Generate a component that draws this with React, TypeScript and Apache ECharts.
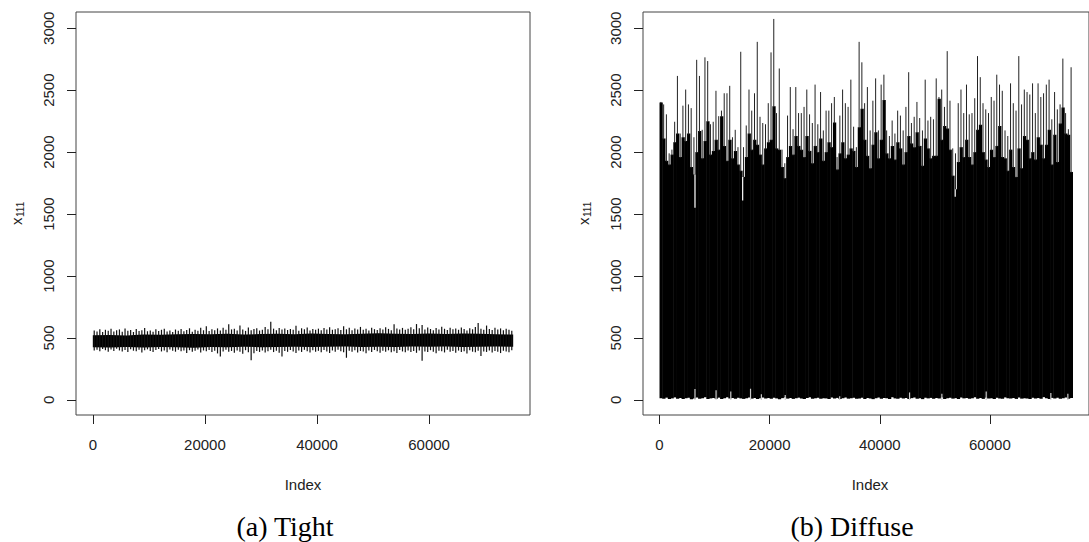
import React, { useEffect, useRef } from 'react';
import * as echarts from 'echarts';

const BIN = 500;
const X_TICKS = [0, 20000, 40000, 60000];
const Y_TICKS = [0, 500, 1000, 1500, 2000, 2500, 3000];
const X_TITLE = 'Index';
const CAPTIONS = ['(a) Tight', '(b) Diffuse'];

// Tight chain: per-bin (500 iterations) extremes of the trace
const TIGHT_HI = [
  560, 552, 571, 548, 566, 558, 574, 553, 562, 569,
  551, 577, 559, 565, 548, 572, 556, 563, 580, 554,
  561, 549, 570, 557, 566, 575, 552, 560, 547, 568,
  559, 573, 555, 564, 578, 551, 566, 558, 583, 562,
  594, 556, 571, 563, 577, 560, 582, 566, 610, 569,
  574, 561, 600, 568, 557, 585, 563, 572, 579, 560,
  567, 588, 570, 630, 575, 562, 581, 569, 576, 564,
  572, 566, 598, 559, 578, 570, 584, 561, 573, 567,
  575, 563, 580, 569, 586, 566, 571, 578, 564, 595,
  570, 582, 562, 577, 568, 589, 566, 574, 560, 583,
  571, 565, 579, 568, 586, 573, 563, 610, 576, 569,
  581, 566, 574, 587, 570, 612, 578, 605, 568, 584,
  572, 563, 580, 569, 590, 574, 565, 582, 571, 577,
  566, 585, 573, 561, 579, 570, 588, 621, 575, 567,
  600, 572, 564, 583, 569, 577, 562, 574, 566, 558,
];
const TIGHT_LO = [
  398, 405, 392, 410, 401, 388, 407, 395, 412, 399,
  390, 403, 386, 409, 397, 393, 404, 382, 400, 408,
  394, 387, 402, 411, 391, 399, 384, 406, 396, 389,
  405, 392, 398, 378, 401, 388, 396, 407, 383, 399,
  393, 402, 386, 397, 375, 350, 391, 404, 388, 395,
  380, 398, 389, 372, 401, 385, 320, 376, 394, 387,
  399, 383, 392, 404, 386, 397, 381, 350, 395, 388,
  402, 390, 379, 398, 387, 404, 393, 382, 400, 389,
  396, 385, 403, 391, 378, 399, 388, 405, 392, 384,
  340, 397, 389, 401, 383, 395, 390, 376, 398, 387,
  403, 392, 381, 396, 388, 400, 385, 393, 379, 402,
  391, 384, 398, 387, 395, 380, 399, 315, 390, 386,
  401, 389, 377, 397, 392, 383, 404, 388, 395, 381,
  398, 386, 393, 375, 400, 389, 384, 396, 355, 391,
  387, 399, 382, 394, 388, 378, 397, 390, 385, 400,
];
// Tight chain: dense core band
const CORE_X = [0, 3000, 6000, 9000, 12000, 15000, 18000, 21000, 24000, 27000, 30000, 33000, 36000,
  39000, 42000, 45000, 48000, 51000, 54000, 57000, 60000, 63000, 66000, 69000, 72000, 75000];
const TIGHT_CORE_HI = [522, 524, 520, 527, 525, 529, 532, 530, 534, 528, 531, 533, 529, 535, 532,
  530, 534, 537, 533, 531, 535, 532, 536, 533, 530, 528];
const TIGHT_CORE_LO = [424, 422, 426, 423, 427, 425, 421, 426, 424, 428, 425, 427, 429, 426, 428,
  430, 427, 429, 426, 431, 428, 430, 427, 429, 431, 428];

// Diffuse chain: per-bin solid body top, spike peak and bottom
const DIFFUSE_BODY = [
  2400, 2110, 1930, 1900, 1980, 2080, 2150, 1960, 2120, 2090,
  2150, 1880, 1820, 2000, 2170, 1950, 2090, 2250, 1980, 2010,
  2100, 2020, 2290, 2050, 1930, 2100, 1950, 2010, 1900, 1850,
  1800, 1960, 2150, 2020, 2100, 2060, 1980, 1900, 2030, 2080,
  2100, 2370, 2030, 2020, 1880, 1790, 1960, 2050, 1980, 2130,
  2050, 2020, 1960, 2130, 2010, 1910, 2050, 2000, 2110, 1930,
  2000, 2080, 2040, 2240, 1860, 1990, 2080, 1950, 1980, 2030,
  2010, 1880, 2200, 2350, 2100, 1970, 1870, 2060, 2160, 1950,
  2100, 2420, 1990, 1950, 2050, 1940, 2080, 2030, 1900, 2000,
  2130, 2070, 2040, 2160, 2050, 1890, 2110, 2030, 1950, 1970,
  1970, 2430, 2100, 2210, 2190, 2020, 1810, 1700, 1920, 2040,
  1960, 2100, 1960, 1900, 2000, 2180, 2220, 2000, 1940, 1880,
  2020, 1960, 2050, 2210, 1960, 1950, 1850, 2020, 1880, 1800,
  2030, 1870, 2130, 2100, 1950, 2000, 1940, 2120, 2060, 1950,
  2060, 2180, 1900, 2140, 1920, 2230, 2360, 2150, 2140, 1840,
];
const DIFFUSE_PEAK = [
  2405, 2385, 2305, 1990, 2020, 2245, 2615, 2150, 2375, 2505,
  2385, 2355, 2120, 2745, 2615, 2180, 2765, 2735, 2225, 2245,
  2495, 2290, 2335, 2475, 2475, 2535, 2120, 2180, 2040, 2810,
  2040, 2215, 2505, 2335, 2475, 2890, 2285, 2235, 2225, 2395,
  2805, 3075, 2315, 2675, 2020, 1910, 2295, 2525, 2185, 2525,
  2315, 2315, 2365, 2505, 2305, 2235, 2545, 2225, 2485, 2175,
  2335, 2335, 2395, 2445, 1960, 2295, 2505, 2395, 2365, 2585,
  2205, 2040, 2890, 2725, 2395, 2525, 2175, 2415, 2595, 2175,
  2545, 2625, 2175, 2130, 2255, 2150, 2335, 2295, 2175, 2365,
  2645, 2235, 2285, 2405, 2275, 2175, 2585, 2255, 2285, 2265,
  2595, 2445, 2505, 2365, 2815, 2415, 2030, 1990, 2395, 2505,
  2315, 2545, 2305, 2315, 2435, 2775, 2605, 2395, 2345, 2315,
  2445, 2415, 2625, 2545, 2495, 2175, 2130, 2555, 2395, 2335,
  2775, 2385, 2505, 2485, 2465, 2555, 2315, 2555, 2445, 2475,
  2545, 2585, 2265, 2485, 2345, 2385, 2755, 2315, 2185, 2685,
];
const DIFFUSE_LO = [
  14, 9, 18, 7, 12, 20, 10, 15, 8, 13,
  17, 6, 11, 19, 9, 14, 22, 8, 12, 16,
  10, 18, 7, 13, 21, 11, 15, 9, 17, 12,
  8, 14, 20, 10, 16, 7, 13, 19, 11, 15,
  9, 17, 12, 6, 14, 20, 10, 16, 8, 13,
  18, 11, 7, 15, 21, 9, 13, 17, 10, 14,
  12, 8, 19, 11, 16, 7, 14, 20, 10, 13,
  17, 9, 12, 18, 8, 15, 11, 6, 14, 19,
  10, 16, 13, 7, 21, 12, 9, 17, 11, 15,
  8, 14, 19, 10, 13, 6, 18, 12, 16, 9,
  15, 11, 20, 8, 13, 17, 10, 14, 7, 19,
  12, 16, 9, 13, 21, 10, 15, 8, 18, 11,
  14, 7, 17, 12, 9, 20, 13, 11, 16, 8,
  19, 10, 14, 12, 7, 17, 11, 15, 9, 22,
  13, 8, 16, 11, 18, 10, 14, 20, 9, 15,
];
// Diffuse chain: isolated low dips (white notches) and high minima (tufts at bottom)
const NOTCH_X = [6440, 15100, 53700];
const NOTCH_Y = [1550, 1610, 1640];
const TUFT_X = [6440, 10270, 12940, 16530, 18500, 22830, 32720, 45410, 51280, 59330, 71070, 74160];
const TUFT_Y = [87, 78, 67, 90, 45, 40, 30, 60, 50, 67, 55, 50];

const SANS = '"Liberation Sans", Arial, Helvetica, sans-serif';
const SERIF = '"Liberation Serif", "Times New Roman", serif';

const GRID_TOP = 12;
const GRID_H = 403;
const GRID_W = 454;
const GRID_LEFT = [76, 643];

function makeAxes(i: number) {
  const x = {
    type: 'value', gridIndex: i, min: -3000, max: 78000, position: 'bottom',
    axisLine: { show: false, onZero: false },
    splitLine: { show: false },
    axisTick: { show: true, inside: false, customValues: X_TICKS, length: 9, lineStyle: { color: '#222', width: 1 } },
    axisLabel: { show: true, customValues: X_TICKS, margin: 22, color: '#222', fontSize: 15, fontFamily: SANS, formatter: (v: number) => String(v) },
  };
  const y = {
    type: 'value', gridIndex: i, min: -122, max: 3131, position: 'left',
    axisLine: { show: false, onZero: false },
    splitLine: { show: false },
    axisTick: { show: true, inside: false, customValues: Y_TICKS, length: 9, lineStyle: { color: '#222', width: 1 } },
    axisLabel: { show: true, customValues: Y_TICKS, rotate: 90, margin: 20, color: '#222', fontSize: 15, fontFamily: SANS, formatter: (v: number) => String(v) },
  };
  return { x, y };
}

export default function App() {
  const ref = useRef<HTMLDivElement>(null);
  useEffect(() => {
    if (!ref.current) return;
    const chart = echarts.init(ref.current, undefined, { renderer: 'svg' });
    const a0 = makeAxes(0);
    const a1 = makeAxes(1);

    const tightSpikes = TIGHT_HI.map((h, k) => [k * BIN + BIN / 2, TIGHT_LO[k], h]);
    const diffuseBins = DIFFUSE_BODY.map((b, k) => [k * BIN, DIFFUSE_LO[k], b, DIFFUSE_PEAK[k]]);
    const notches = NOTCH_X.map((x, i) => [x, NOTCH_Y[i], DIFFUSE_BODY[Math.floor(x / BIN)]]);
    const tufts = TUFT_X.map((x, i) => [x, TUFT_Y[i]]);

    const option: any = {
      animation: false,
      grid: GRID_LEFT.map((l) => ({
        left: l, top: GRID_TOP, width: GRID_W, height: GRID_H,
        show: true, borderColor: '#444', borderWidth: 1, backgroundColor: 'transparent',
      })),
      xAxis: [a0.x, a1.x],
      yAxis: [a0.y, a1.y],
      series: [
        {
          type: 'custom', xAxisIndex: 0, yAxisIndex: 0, data: [[0]],
          renderItem: (_p: any, api: any) => {
            const up = CORE_X.map((x, i) => api.coord([x, TIGHT_CORE_HI[i]]));
            const dn = CORE_X.map((x, i) => api.coord([x, TIGHT_CORE_LO[i]])).reverse();
            return { type: 'polygon', shape: { points: up.concat(dn) }, style: { fill: '#000' } };
          },
        },
        {
          type: 'custom', xAxisIndex: 0, yAxisIndex: 0, data: tightSpikes,
          renderItem: (_p: any, api: any) => {
            const a = api.coord([api.value(0), api.value(1)]);
            const b = api.coord([api.value(0), api.value(2)]);
            return { type: 'line', shape: { x1: a[0], y1: a[1], x2: b[0], y2: b[1] }, style: { stroke: '#111', lineWidth: 1.2 } };
          },
        },
        {
          type: 'custom', xAxisIndex: 1, yAxisIndex: 1, data: diffuseBins,
          renderItem: (_p: any, api: any) => {
            const x = api.value(0);
            const lo = api.coord([x, api.value(1)]);
            const hi = api.coord([x + BIN, api.value(2)]);
            const c0 = api.coord([x + BIN / 2, api.value(2)]);
            const c1 = api.coord([x + BIN / 2, api.value(3)]);
            return {
              type: 'group',
              children: [
                { type: 'rect', shape: { x: lo[0], y: hi[1], width: hi[0] - lo[0] + 0.5, height: lo[1] - hi[1] }, style: { fill: '#000' } },
                { type: 'line', shape: { x1: c0[0], y1: c0[1] + 1, x2: c1[0], y2: c1[1] }, style: { stroke: '#222', lineWidth: 1 } },
              ],
            };
          },
        },
        {
          type: 'custom', xAxisIndex: 1, yAxisIndex: 1, data: notches,
          renderItem: (_p: any, api: any) => {
            const a = api.coord([api.value(0), api.value(1)]);
            const b = api.coord([api.value(0), api.value(2)]);
            return { type: 'line', shape: { x1: a[0], y1: a[1], x2: b[0], y2: b[1] }, style: { stroke: '#fff', lineWidth: 1.2 } };
          },
        },
        {
          type: 'custom', xAxisIndex: 1, yAxisIndex: 1, data: tufts,
          renderItem: (_p: any, api: any) => {
            const a = api.coord([api.value(0), 0]);
            const b = api.coord([api.value(0), api.value(1)]);
            return { type: 'line', shape: { x1: a[0], y1: a[1], x2: b[0], y2: b[1] }, style: { stroke: '#ccc', lineWidth: 1.2 } };
          },
        },
      ],
      graphic: [
        ...GRID_LEFT.map((l) => ({
          type: 'text', x: l + GRID_W / 2, y: 484,
          style: { text: X_TITLE, fontSize: 15, fontFamily: SANS, fill: '#222', align: 'center', verticalAlign: 'middle' },
        })),
        ...GRID_LEFT.map((l) => ({
          type: 'group', x: l - 60, y: 213, rotation: Math.PI / 2,
          children: [
            { type: 'text', x: -12, y: 0, style: { text: 'x', fontSize: 15, fontFamily: SANS, fill: '#222', align: 'left', verticalAlign: 'middle' } },
            { type: 'text', x: -4, y: 4, style: { text: '111', fontSize: 10, fontFamily: SANS, fill: '#222', align: 'left', verticalAlign: 'middle' } },
          ],
        })),
        { type: 'text', x: 285, y: 526, style: { text: CAPTIONS[0], fontSize: 28, fontFamily: SERIF, fill: '#000', align: 'center', verticalAlign: 'middle' } },
        { type: 'text', x: 852, y: 526, style: { text: CAPTIONS[1], fontSize: 28, fontFamily: SERIF, fill: '#000', align: 'center', verticalAlign: 'middle' } },
      ],
    };
    chart.setOption(option);
    return () => chart.dispose();
  }, []);
  return <div ref={ref} style={{ position: 'absolute', left: 0, top: 0, width: 1089, height: 542, background: '#fff' }} />;
}
